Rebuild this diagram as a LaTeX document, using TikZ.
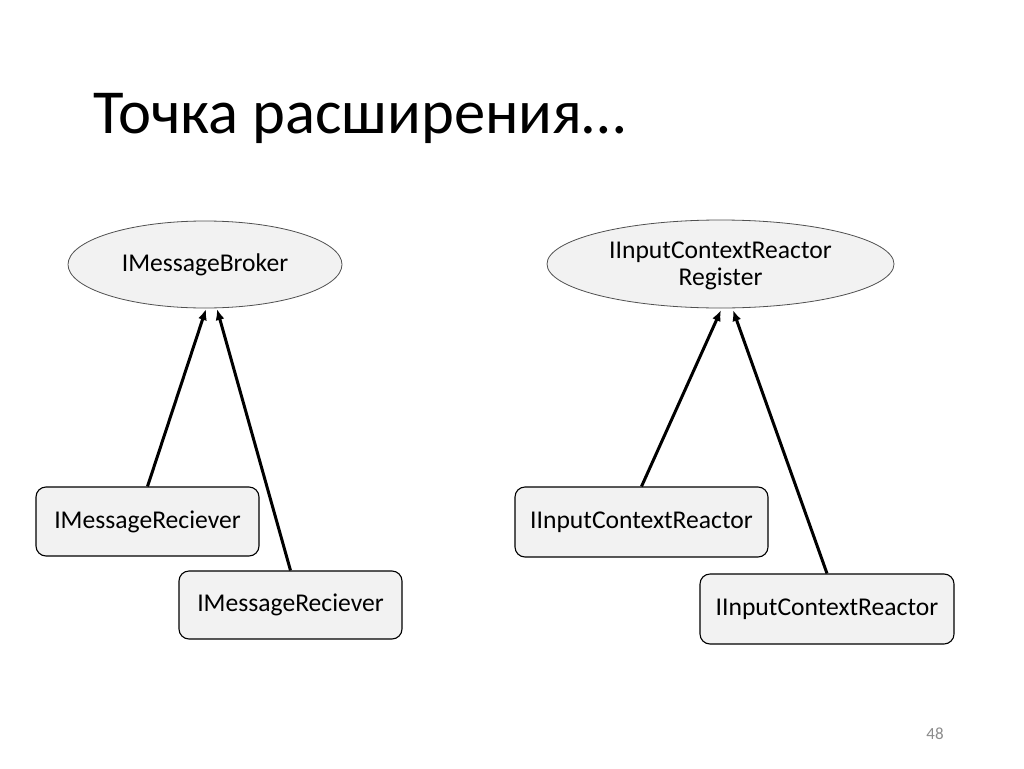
\documentclass[tikz,border=0pt]{standalone}
\usepackage{fontspec}
\setmainfont{Carlito}
\usetikzlibrary{shapes.geometric,arrows.meta}
\definecolor{boxfill}{HTML}{F2F2F2}
\definecolor{ellline}{HTML}{505050}
\definecolor{pagegray}{HTML}{8C8C8C}
\tikzset{
  ell/.style={ellipse, draw=ellline, line width=0.8pt, fill=boxfill, inner sep=0pt, align=center,
    font=\fontsize{25.6}{30}\selectfont},
  rbox/.style={rectangle, rounded corners=10pt, draw=black, line width=1.1pt, fill=boxfill, inner sep=0pt,
    font=\fontsize{25.6}{30}\selectfont},
  inh/.style={line width=3pt, -{Latex[length=11pt,width=9pt]}},
}
\begin{document}
\begin{tikzpicture}[x=1pt,y=-1pt]
\useasboundingbox[fill=white] (0,0) rectangle (1024,768);
\node[anchor=base west, inner sep=0pt, font=\fontsize{62.6}{70}\selectfont] (title) at (93,133) {Точка расширения…};
\node[font=\fontsize{17}{20}\selectfont, text=pagegray] (page) at (935,734) {48};

\node[ell, minimum width=274pt, minimum height=87pt] (e1) at (205,264.5) {IMessageBroker};
\node[rbox, minimum width=223pt, minimum height=69pt] (b1) at (147.5,521.5) {IMessageReciever};
\node[rbox, minimum width=223pt, minimum height=68pt] (b2) at (290.5,605) {IMessageReciever};
\coordinate (t1) at (206,309);
\coordinate (t2) at (217,309);
\draw[inh] (b1.north) -- (t1);
\draw[inh] (b2.north) -- (t2);

\node[ell, minimum width=347pt, minimum height=88pt, text depth=0pt] (e2) at (720.5,264) {IInputContextReactor\\[-3pt]Register};
\node[rbox, minimum width=253pt, minimum height=70pt] (b3) at (641.5,522) {IInputContextReactor};
\node[rbox, minimum width=254pt, minimum height=70pt] (b4) at (827,609) {IInputContextReactor};
\coordinate (t3) at (721,310);
\coordinate (t4) at (733,310);
\draw[inh] (b3.north) -- (t3);
\draw[inh] (b4.north) -- (t4);
\end{tikzpicture}
\end{document}
